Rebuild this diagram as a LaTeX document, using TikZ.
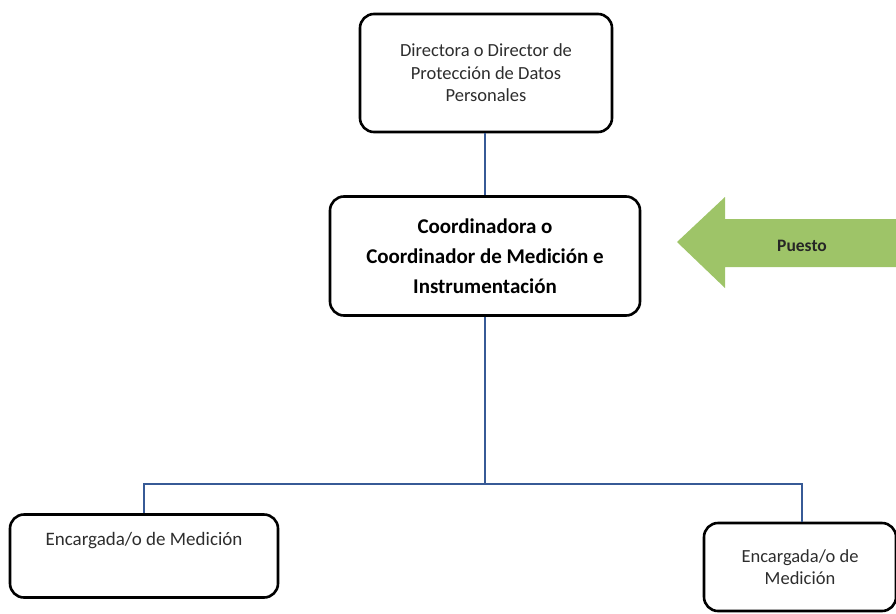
\documentclass[tikz,border=0pt]{standalone}
\usepackage{fontspec}
\setmainfont{Carlito}
\definecolor{linkblue}{RGB}{55,90,150}
\definecolor{arrowgreen}{RGB}{158,196,104}
\definecolor{textgray}{RGB}{45,45,45}
\begin{document}
\begin{tikzpicture}[x=1pt,y=-1pt,
  box/.style={draw=black, line width=2.6pt, rounded corners=14pt, align=center, inner sep=0pt, text=textgray},
  link/.style={draw=linkblue, line width=1.3pt}]
\useasboundingbox (0,0) rectangle (896,613);
\node[box, minimum width=252pt, minimum height=118pt, font=\fontsize{18.5}{22.5}\selectfont] (dir) at (486,73)
  {Directora o Director de\\Protección de Datos\\Personales};
\node[box, minimum width=310pt, minimum height=119pt, font=\bfseries\fontsize{21}{30}\selectfont, text=black] (coord) at (485,256)
  {Coordinadora o\\Coordinador de Medición e\\Instrumentación};
\node[box, minimum width=268pt, minimum height=83pt, font=\fontsize{19}{26}\selectfont] (encl) at (144,556)
  {Encargada/o de Medición\\\strut};
\node[box, minimum width=192pt, minimum height=88pt, font=\fontsize{18.5}{22}\selectfont] (encr) at (800,567)
  {Encargada/o de\\Medición};
\fill[arrowgreen] (677,242) -- (725,197) -- (725,219) -- (896,219) -- (896,267) -- (725,267) -- (725,288) -- cycle;
\node[font=\bfseries\fontsize{17.5}{20}\selectfont, text=black!85] (puesto) at (802,246) {Puesto};
\draw[link] (dir.south -| coord.north) -- (coord.north);
\coordinate (split) at (485,484);
\draw[link] (coord.south) -- (split);
\draw[link] (split) -| (encl.north);
\draw[link] (split) -| ([xshift=2pt]encr.north);
\end{tikzpicture}
\end{document}
